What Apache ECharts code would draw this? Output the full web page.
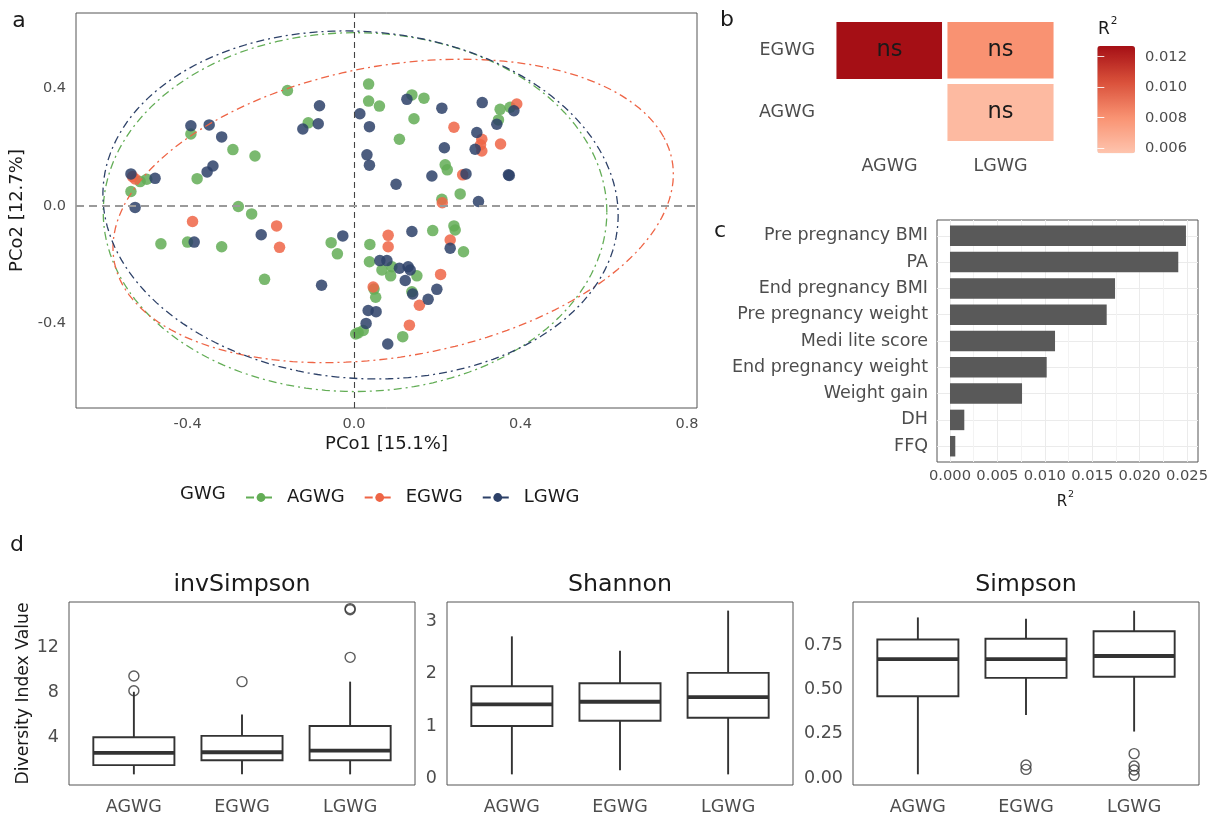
<!DOCTYPE html>
<html>
<head>
<meta charset="utf-8">
<script src="https://cdn.jsdelivr.net/npm/echarts@6/dist/echarts.min.js"></script>
<style>html,body{margin:0;padding:0;background:#fff}#c{width:1212px;height:816px}</style>
</head>
<body>
<div id="c"></div>
<script>
// ---------------- DATA ----------------
const groups = ['AGWG', 'EGWG', 'LGWG'];
const groupColors = ['#63AD56', '#EE6546', '#2D4168'];

// panel a: PCoA points [PCo1, PCo2]
const agwgPoints = [[-0.160,0.393],[-0.110,0.283],[-0.392,0.245],[-0.291,0.192],[-0.238,0.170],[-0.377,0.093],[-0.498,0.091],[-0.514,0.083],[-0.536,0.049],[-0.278,-0.002],[-0.246,-0.027],[-0.464,-0.129],[-0.400,-0.123],[-0.318,-0.139],[-0.215,-0.250],[-0.055,-0.125],[-0.040,-0.163],[0.035,0.415],[0.035,0.357],[0.061,0.340],[0.139,0.378],[0.168,0.367],[0.144,0.297],[0.351,0.329],[0.375,0.336],[0.347,0.293],[0.109,0.227],[0.219,0.140],[0.224,0.123],[0.255,0.041],[0.211,0.023],[0.038,-0.131],[0.037,-0.190],[0.067,-0.218],[0.091,-0.207],[0.088,-0.238],[0.151,-0.238],[0.048,-0.283],[0.052,-0.311],[0.189,-0.084],[0.240,-0.068],[0.243,-0.082],[0.263,-0.156],[0.139,-0.292],[0.010,-0.432],[0.022,-0.424],[0.004,-0.436],[0.117,-0.445]];
const egwgPoints = [[-0.532,0.100],[-0.526,0.092],[-0.388,-0.053],[-0.186,-0.068],[-0.179,-0.141],[0.082,-0.100],[0.082,-0.139],[0.046,-0.276],[0.231,-0.116],[0.208,-0.233],[0.157,-0.338],[0.133,-0.406],[0.391,0.347],[0.240,0.268],[0.307,0.227],[0.304,0.208],[0.307,0.187],[0.352,0.211],[0.261,0.106],[0.212,0.011]];
const lgwgPoints = [[-0.083,0.341],[-0.123,0.262],[-0.086,0.280],[-0.392,0.273],[-0.348,0.276],[-0.318,0.235],[-0.339,0.136],[-0.353,0.116],[-0.536,0.109],[-0.478,0.094],[-0.526,-0.005],[-0.384,-0.123],[-0.223,-0.098],[-0.027,-0.102],[-0.078,-0.270],[0.014,0.314],[0.037,0.270],[0.031,0.174],[0.037,0.139],[0.127,0.363],[0.211,0.333],[0.308,0.352],[0.384,0.324],[0.343,0.278],[0.295,0.250],[0.291,0.193],[0.217,0.198],[0.187,0.102],[0.269,0.109],[0.371,0.106],[0.373,0.104],[0.101,0.074],[0.299,0.015],[0.139,-0.087],[0.231,-0.144],[0.062,-0.186],[0.079,-0.186],[0.109,-0.212],[0.130,-0.207],[0.135,-0.218],[0.123,-0.254],[0.141,-0.300],[0.199,-0.284],[0.178,-0.318],[0.034,-0.356],[0.053,-0.360],[0.029,-0.400],[0.081,-0.470]];
// 95% ellipses: centre, semi-axes, rotation (deg), order AGWG, EGWG, LGWG
const ellipseCenters = [[0.0024,-0.021],[0.094,-0.017],[0.0156,0.0034]];
const ellipseSemiAxes = [[0.605,0.611],[0.697,0.484],[0.628,0.583]];
const ellipseAngles = [0, 21.1, -27];
const pcoXTicks = [-0.4, 0, 0.4, 0.8];
const pcoYTicks = [-0.4, 0, 0.4];

// panel b: pairwise PERMANOVA
const heatCols = ['AGWG', 'LGWG'];
const heatRows = ['AGWG', 'EGWG'];
const heatCells = [[0,1],[1,1],[1,0]];     // [col, row]
const heatValues = [0.0127, 0.0080, 0.00616];
const heatSig = ['ns', 'ns', 'ns'];
const cbTicks = [0.006, 0.008, 0.010, 0.012];

// panel c: envfit R2
const cVars = ['Pre pregnancy BMI','PA','End pregnancy BMI','Pre pregnancy weight','Medi lite score','End pregnancy weight','Weight gain','DH','FFQ'];
const cR2 = [0.02489, 0.02408, 0.01741, 0.01653, 0.01108, 0.01020, 0.00760, 0.00151, 0.00056];
const cTicks = [0, 0.005, 0.010, 0.015, 0.020, 0.025];
const cGridVals = [0, 0.0025, 0.005, 0.0075, 0.010, 0.0125, 0.015, 0.0175, 0.020, 0.0225, 0.025];

// panel d: boxplots [lower whisker, Q1, median, Q3, upper whisker]
const invSimpsonBox = [[0.54,1.37,2.46,3.87,7.94],[0.54,1.81,2.52,3.99,5.91],[0.54,1.81,2.66,4.87,8.85]];
const invSimpsonOut = [[0,9.35],[0,8.03],[1,8.85],[2,11.03],[2,15.3],[2,15.4]];
const shannonBox = [[0.03,0.97,1.39,1.74,2.71],[0.11,1.07,1.44,1.80,2.43],[0.03,1.13,1.53,2.00,3.21]];
const shannonOut = [];
const simpsonBox = [[0.009,0.454,0.666,0.778,0.904],[0.347,0.559,0.666,0.782,0.896],[0.253,0.566,0.684,0.825,0.942]];
const simpsonOut = [[1,0.062],[1,0.037],[2,0.127],[2,0.056],[2,0.034],[2,0.003]];
const invTicks = [4, 8, 12];
const shaTicks = [0, 1, 2, 3];
const simTicks = [0, 0.25, 0.5, 0.75];

// ---------------- CHART ----------------
const FONT = 'DejaVu Sans';
const LAB = '#4d4d4d';
const FRAME = '#555';
const chart = echarts.init(document.getElementById('c'), null, {renderer: 'canvas'});

function ellipsePoints(c, ax, angDeg) {
  const t = angDeg * Math.PI / 180, pts = [];
  for (let i = 0; i <= 160; i++) {
    const u = 2 * Math.PI * i / 160;
    const ex = ax[0] * Math.cos(u), ey = ax[1] * Math.sin(u);
    pts.push([c[0] + ex * Math.cos(t) - ey * Math.sin(t), c[1] + ex * Math.sin(t) + ey * Math.cos(t)]);
  }
  return pts;
}

function boxRender(params, api) {
  const cat = api.value(0);
  const pLo = api.coord([cat, api.value(1)]);
  const pQ1 = api.coord([cat, api.value(2)]);
  const pMed = api.coord([cat, api.value(3)]);
  const pQ3 = api.coord([cat, api.value(4)]);
  const pHi = api.coord([cat, api.value(5)]);
  const half = api.size([1, 0])[0] * 0.75 / 2;
  const x = pMed[0];
  const st = {stroke: '#333', lineWidth: 1.9};
  return {type: 'group', children: [
    {type: 'line', shape: {x1: x, y1: pQ3[1], x2: x, y2: pHi[1]}, style: st},
    {type: 'line', shape: {x1: x, y1: pQ1[1], x2: x, y2: pLo[1]}, style: st},
    {type: 'rect', shape: {x: x - half, y: pQ3[1], width: 2 * half, height: pQ1[1] - pQ3[1]}, style: {fill: '#fff', stroke: '#333', lineWidth: 1.9}},
    {type: 'line', shape: {x1: x - half, y1: pMed[1], x2: x + half, y2: pMed[1]}, style: {stroke: '#333', lineWidth: 3.8}}
  ]};
}

const frameGrid = (l, t, w, h) => ({left: l, top: t, width: w, height: h, show: true, borderColor: FRAME, borderWidth: 1, backgroundColor: 'transparent'});
const plainGrid = (l, t, w, h) => ({left: l, top: t, width: w, height: h, show: false});
const hiddenVal = (gi, min, max, extra) => Object.assign({type: 'value', gridIndex: gi, min: min, max: max, show: false}, extra || {});

// d layout
const dTop = 602, dH = 183, dW = 346, dInset = dW / 3.2 * 0.1;
const dLefts = [69, 447, 853];

const grids = [
  frameGrid(76, 13, 621, 395),                 // 0 panel a
  plainGrid(834, 19.5, 222, 124),              // 1 heatmap
  plainGrid(1097.3, 46, 37.7, 107.3),          // 2 colourbar
  frameGrid(937, 220, 261, 242),               // 3 panel c frame
  plainGrid(937, 220 + 242 / 9.2 * 0.1, 261, 242 * 9 / 9.2), // 4 panel c bars
  frameGrid(dLefts[0], dTop, dW, dH),          // 5
  plainGrid(dLefts[0] + dInset, dTop, dW - 2 * dInset, dH), // 6
  frameGrid(dLefts[1], dTop, dW, dH),          // 7
  plainGrid(dLefts[1] + dInset, dTop, dW - 2 * dInset, dH), // 8
  frameGrid(dLefts[2], dTop, dW, dH),          // 9
  plainGrid(dLefts[2] + dInset, dTop, dW - 2 * dInset, dH)  // 10
];

const catAxisD = gi => ({type: 'category', gridIndex: gi, data: groups, axisLine: {show: false}, axisTick: {show: false},
  axisLabel: {color: LAB, fontSize: 17.5, margin: 15.5, fontFamily: FONT}, splitLine: {show: false}});
const valAxisD = (gi, min, max, ticks, fmt, extra) => Object.assign({type: 'value', gridIndex: gi, min: min, max: max,
  axisLine: {show: false}, axisTick: {show: false, customValues: ticks}, splitLine: {show: false},
  axisLabel: {customValues: ticks, formatter: fmt, color: LAB, fontSize: 17.5, margin: 10, fontFamily: FONT}}, extra || {});

const xAxes = [
  {type: 'value', gridIndex: 0, min: -0.668, max: 0.824, axisLine: {show: false}, axisTick: {show: false, customValues: pcoXTicks}, splitLine: {show: false},
   axisLabel: {customValues: pcoXTicks, formatter: v => v.toFixed(1), color: LAB, fontSize: 14.5, margin: 9},
   name: 'PCo1 [15.1%]', nameLocation: 'middle', nameGap: 27, nameTextStyle: {fontSize: 18, color: '#1a1a1a', fontFamily: FONT}},
  {type: 'category', gridIndex: 1, data: heatCols, axisLine: {show: false}, axisTick: {show: false}, splitLine: {show: false},
   axisLabel: {color: LAB, fontSize: 17.5, margin: 14}},
  hiddenVal(2, 0, 1),
  {type: 'value', gridIndex: 3, min: -0.00137, max: 0.02616, axisLine: {show: false},
   axisTick: {show: false, customValues: cGridVals},
   splitLine: {show: true, lineStyle: {color: ['#EBEBEB', '#F3F3F3'], width: 1}},
   axisLabel: {customValues: cTicks, formatter: v => v.toFixed(3), color: LAB, fontSize: 14.7, margin: 7}},
  hiddenVal(4, -0.00137, 0.02616),
  hiddenVal(5, 0, 1),
  catAxisD(6),
  hiddenVal(7, 0, 1),
  catAxisD(8),
  hiddenVal(9, 0, 1),
  catAxisD(10)
];

const yAxes = [
  {type: 'value', gridIndex: 0, min: -0.688, max: 0.657, axisLine: {show: false}, axisTick: {show: false, customValues: pcoYTicks}, splitLine: {show: false},
   axisLabel: {customValues: pcoYTicks, formatter: v => v.toFixed(1), color: LAB, fontSize: 14.5, margin: 10},
   name: 'PCo2 [12.7%]', nameLocation: 'middle', nameRotate: 90, nameGap: 45, nameTextStyle: {fontSize: 18, color: '#1a1a1a', fontFamily: FONT}},
  {type: 'category', gridIndex: 1, data: heatRows, axisLine: {show: false}, axisTick: {show: false}, splitLine: {show: false},
   axisLabel: {color: LAB, fontSize: 17.5, margin: 19}},
  {type: 'value', gridIndex: 2, position: 'right', min: 0.00567, max: 0.0127, z: 10, axisLine: {show: false}, splitLine: {show: false},
   axisTick: {show: true, inside: true, length: 7, lineStyle: {color: 'rgba(255,255,255,0.85)', width: 1}, customValues: cbTicks},
   axisLabel: {customValues: cbTicks, formatter: v => v.toFixed(3), color: LAB, fontSize: 14.7, margin: 10}},
  {type: 'value', gridIndex: 3, min: 0.4, max: 9.6, inverse: true, axisLine: {show: false}, axisLabel: {show: false},
   axisTick: {show: false, customValues: [1,2,3,4,5,6,7,8,9]}, splitLine: {show: true, lineStyle: {color: '#EBEBEB', width: 1}}},
  {type: 'category', gridIndex: 4, data: cVars, inverse: true, axisLine: {show: false}, axisTick: {show: false}, splitLine: {show: false},
   axisLabel: {color: LAB, fontSize: 17.5, margin: 9}},
  valAxisD(5, -0.19, 15.99, invTicks, v => String(v), {name: 'Diversity Index Value', nameLocation: 'middle', nameRotate: 90, nameGap: 37,
   nameTextStyle: {fontSize: 17.2, color: '#1a1a1a', fontFamily: FONT}}),
  hiddenVal(6, -0.19, 15.99),
  valAxisD(7, -0.128, 3.377, shaTicks, v => String(v)),
  hiddenVal(8, -0.128, 3.377),
  valAxisD(9, -0.0377, 0.992, simTicks, v => v.toFixed(2)),
  hiddenVal(10, -0.0377, 0.992),
  {type: 'value', gridIndex: 2, position: 'left', min: 0.00567, max: 0.0127, z: 10, axisLine: {show: false}, splitLine: {show: false},
   axisTick: {show: true, inside: true, length: 7, lineStyle: {color: 'rgba(255,255,255,0.85)', width: 1}, customValues: cbTicks},
   axisLabel: {show: false}}
];

const series = [];
const pointSets = [agwgPoints, egwgPoints, lgwgPoints];
// ellipses first (legend icon uses them)
groups.forEach((g, i) => {
  series.push({name: g, type: 'line', xAxisIndex: 0, yAxisIndex: 0, data: ellipsePoints(ellipseCenters[i], ellipseSemiAxes[i], ellipseAngles[i]),
    showSymbol: false, symbol: 'circle', smooth: false, silent: true, z: 3,
    itemStyle: {color: groupColors[i]}, lineStyle: {color: groupColors[i], width: 1.3, type: [8, 4, 2, 4]}});
});
groups.forEach((g, i) => {
  const s = {name: g, type: 'scatter', xAxisIndex: 0, yAxisIndex: 0, data: pointSets[i], symbolSize: 11.5,
    itemStyle: {color: groupColors[i], opacity: 0.85}, z: 2};
  if (i === 0) {
    s.markLine = {silent: true, symbol: ['none', 'none'], label: {show: false}, animation: false,
      data: [{xAxis: 0, lineStyle: {color: '#444', type: [6, 4], width: 1.1}},
             {yAxis: 0, lineStyle: {color: '#9a9a9a', type: [8, 5], width: 2}}]};
  }
  series.push(s);
});
// heatmap
const heatIndex = series.length;
series.push({type: 'heatmap', xAxisIndex: 1, yAxisIndex: 1,
  data: heatCells.map((c, i) => [c[0], c[1], heatValues[i]]),
  itemStyle: {borderColor: '#fff', borderWidth: 5.4},
  label: {show: true, formatter: p => heatSig[p.dataIndex], fontSize: 22.5, color: '#1a1a1a', fontFamily: FONT},
  emphasis: {disabled: true}});
// bars
series.push({type: 'bar', xAxisIndex: 4, yAxisIndex: 4, data: cR2, barWidth: 20.5, itemStyle: {color: '#595959'}, silent: true});
// boxplots
const boxSets = [invSimpsonBox, shannonBox, simpsonBox];
const outSets = [invSimpsonOut, shannonOut, simpsonOut];
[6, 8, 10].forEach((gi, k) => {
  series.push({type: 'custom', xAxisIndex: gi, yAxisIndex: gi, renderItem: boxRender,
    data: boxSets[k].map((b, i) => [i].concat(b)), encode: {x: 0, y: [1, 2, 3, 4, 5]}, silent: true});
  series.push({type: 'scatter', xAxisIndex: gi, yAxisIndex: gi, data: outSets[k], symbol: 'circle', symbolSize: 10,
    itemStyle: {color: 'rgba(0,0,0,0)', borderColor: '#333', borderWidth: 1.4}, silent: true, z: 5});
});

const txt = (text, x, y, size, extra) => ({type: 'text', x: x, y: y, silent: true,
  style: Object.assign({text: text, fontSize: size, fontFamily: FONT, fill: '#1a1a1a', align: 'center', verticalAlign: 'middle'}, extra || {})});

const option = {
  animation: false,
  backgroundColor: '#fff',
  textStyle: {fontFamily: FONT},
  grid: grids,
  xAxis: xAxes,
  yAxis: yAxes,
  visualMap: [{type: 'continuous', seriesIndex: heatIndex, min: 0.00567, max: 0.0127,
    inRange: {color: ['#FEC4AE', '#F99272', '#D9503A', '#A50F15']},
    left: 1097.3, top: 46, itemWidth: 37.7, itemHeight: 107.3, padding: 0, calculable: false, hoverLink: false, orient: 'vertical', z: 4}],
  legend: {left: 245, top: 488.5, padding: 0, itemWidth: 30, itemHeight: 11, itemGap: 19, selectedMode: false,
    data: groups, textStyle: {fontSize: 18, color: '#1a1a1a', fontFamily: FONT, padding: [0, 0, 0, 6]}},
  graphic: [
    txt('a', 19, 21, 22), txt('b', 727, 20, 22), txt('c', 720, 231, 22), txt('d', 17, 545, 22),
    txt('GWG', 180, 494, 18, {align: 'left'}),
    txt('R', 1104, 30, 17), txt('2', 1114, 21, 10.5),
    txt('R', 1062, 502, 15), txt('2', 1071, 495, 9.5),
    txt('invSimpson', dLefts[0] + dW / 2, 585, 23.7),
    txt('Shannon', dLefts[1] + dW / 2, 585, 23.7),
    txt('Simpson', dLefts[2] + dW / 2, 585, 23.7)
  ],
  series: series
};
chart.setOption(option);
</script>
</body>
</html>
